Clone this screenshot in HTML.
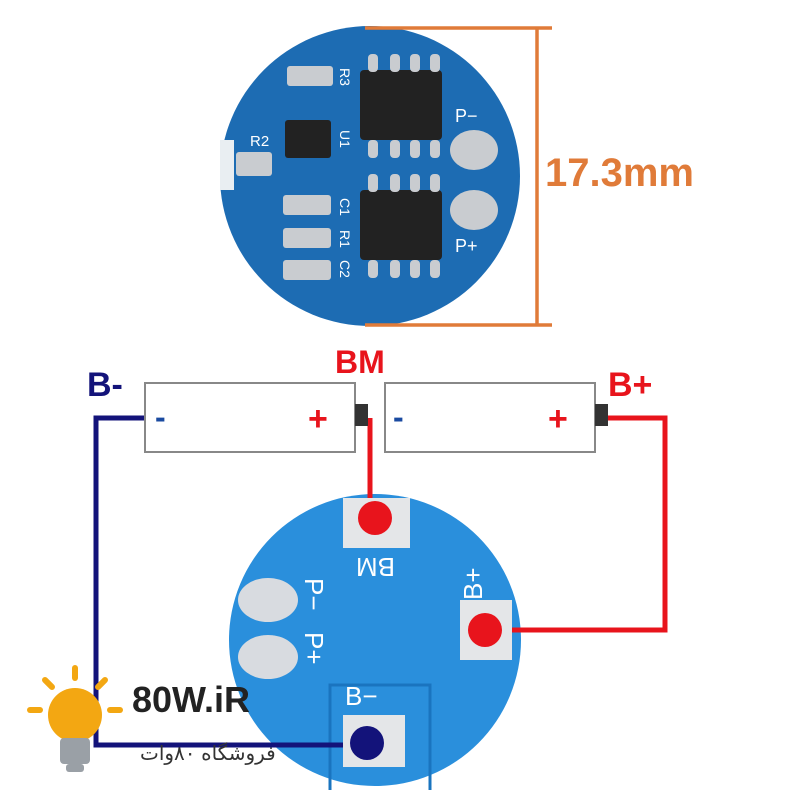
<!DOCTYPE html>
<html><head><meta charset="utf-8"><style>
html,body{margin:0;padding:0;background:#fff;width:800px;height:800px;overflow:hidden}
</style></head><body>
<svg width="800" height="800" viewBox="0 0 800 800" xmlns="http://www.w3.org/2000/svg" font-family="Liberation Sans, sans-serif">
<rect width="800" height="800" fill="#fff"/>
<!-- top PCB -->
<circle cx="370" cy="176" r="150" fill="#1d6cb3"/>
<rect x="220" y="140" width="14" height="50" fill="#e9eef2"/>
<g fill="#222">
<rect x="360" y="70" width="82" height="70" rx="4"/>
<rect x="360" y="190" width="82" height="70" rx="4"/>
<rect x="285" y="120" width="46" height="38" rx="3"/>
</g>
<g fill="#c9ccd0">
<rect x="368" y="54" width="10" height="18" rx="4"/><rect x="390" y="54" width="10" height="18" rx="4"/><rect x="410" y="54" width="10" height="18" rx="4"/><rect x="430" y="54" width="10" height="18" rx="4"/>
<rect x="368" y="140" width="10" height="18" rx="4"/><rect x="390" y="140" width="10" height="18" rx="4"/><rect x="410" y="140" width="10" height="18" rx="4"/><rect x="430" y="140" width="10" height="18" rx="4"/>
<rect x="368" y="174" width="10" height="18" rx="4"/><rect x="390" y="174" width="10" height="18" rx="4"/><rect x="410" y="174" width="10" height="18" rx="4"/><rect x="430" y="174" width="10" height="18" rx="4"/>
<rect x="368" y="260" width="10" height="18" rx="4"/><rect x="390" y="260" width="10" height="18" rx="4"/><rect x="410" y="260" width="10" height="18" rx="4"/><rect x="430" y="260" width="10" height="18" rx="4"/>
<rect x="287" y="66" width="46" height="20" rx="3"/>
<rect x="236" y="152" width="36" height="24" rx="3"/>
<rect x="283" y="195" width="48" height="20" rx="3"/>
<rect x="283" y="228" width="48" height="20" rx="3"/>
<rect x="283" y="260" width="48" height="20" rx="3"/>
<ellipse cx="474" cy="150" rx="24" ry="20"/>
<ellipse cx="474" cy="210" rx="24" ry="20"/>
</g>
<g fill="#fff" font-size="18">
<text x="455" y="122">P−</text><text x="455" y="252">P+</text>
<text x="250" y="146" font-size="15">R2</text>
</g>
<g fill="#fff" font-size="14">
<text transform="translate(340,68) rotate(90)">R3</text>
<text transform="translate(340,130) rotate(90)">U1</text>
<text transform="translate(340,198) rotate(90)">C1</text>
<text transform="translate(340,230) rotate(90)">R1</text>
<text transform="translate(340,260) rotate(90)">C2</text>
</g>
<!-- dimension -->
<g stroke="#e07b39" stroke-width="3.5">
<line x1="365" y1="28" x2="552" y2="28"/><line x1="365" y1="325" x2="552" y2="325"/><line x1="537" y1="28" x2="537" y2="325"/>
</g>
<text x="545" y="186" fill="#e07b39" font-size="40" font-weight="bold">17.3mm</text>
<!-- labels -->
<text x="335" y="373" fill="#e8141c" font-size="32" font-weight="bold">BM</text>
<text x="87" y="396" fill="#13137a" font-size="34" font-weight="bold">B-</text>
<text x="608" y="396" fill="#e8141c" font-size="34" font-weight="bold">B+</text>
<!-- bottom PCB -->
<circle cx="375" cy="640" r="146" fill="#2a8fdc"/>
<path d="M330 790 L330 685 L430 685 L430 790" fill="none" stroke="#1a74bf" stroke-width="3"/>
<!-- wires -->
<g fill="none" stroke-width="5">
<polyline points="145,418 96,418 96,745 367,745" stroke="#13137a"/>
<polyline points="607,418 665,418 665,630 485,630" stroke="#e8141c"/>
<polyline points="370,418 370,515" stroke="#e8141c"/>
</g>
<!-- batteries -->
<rect x="145" y="383" width="210" height="69" fill="#fff" stroke="#888" stroke-width="2"/>
<rect x="355" y="404" width="13" height="22" fill="#333"/>
<rect x="385" y="383" width="210" height="69" fill="#fff" stroke="#888" stroke-width="2"/>
<rect x="595" y="404" width="13" height="22" fill="#333"/>
<text x="155" y="428" fill="#1a4aa0" font-size="32" font-weight="bold">-</text>
<text x="308" y="430" fill="#e8141c" font-size="34" font-weight="bold">+</text>
<text x="393" y="428" fill="#1a4aa0" font-size="32" font-weight="bold">-</text>
<text x="548" y="430" fill="#e8141c" font-size="34" font-weight="bold">+</text>
<!-- pads -->
<rect x="343" y="498" width="67" height="50" fill="#e4e6e8"/>
<rect x="460" y="600" width="52" height="60" fill="#e4e6e8"/>
<rect x="343" y="715" width="62" height="52" fill="#e4e6e8"/>
<ellipse cx="268" cy="600" rx="30" ry="22" fill="#d8dbe0"/>
<ellipse cx="268" cy="657" rx="30" ry="22" fill="#d8dbe0"/>
<circle cx="375" cy="518" r="17" fill="#e8141c"/>
<circle cx="485" cy="630" r="17" fill="#e8141c"/>
<circle cx="367" cy="743" r="17" fill="#13137a"/>
<g fill="#fff" font-size="26">
<text x="345" y="705">B−</text>
<text transform="translate(395,558) rotate(180)">BM</text>
<text transform="translate(482,600) rotate(-90)">B+</text>
<text transform="translate(305,578) rotate(90)">P−</text>
<text transform="translate(305,632) rotate(90)">P+</text>
</g>
<!-- logo -->
<g stroke="#f3a712" stroke-width="6" stroke-linecap="round">
<line x1="75" y1="668" x2="75" y2="678"/>
<line x1="45" y1="680" x2="52" y2="687"/>
<line x1="105" y1="680" x2="98" y2="687"/>
<line x1="30" y1="710" x2="40" y2="710"/>
<line x1="110" y1="710" x2="120" y2="710"/>
</g>
<ellipse cx="75" cy="715" rx="27" ry="27" fill="#f3a712"/>
<rect x="60" y="738" width="30" height="26" rx="4" fill="#9aa0a6"/>
<rect x="66" y="764" width="18" height="8" rx="3" fill="#9aa0a6"/>
<text x="132" y="712" fill="#222" font-size="36" font-weight="bold">80W.iR</text>
<text x="140" y="760" fill="#333" font-size="20" font-family="Liberation Sans, DejaVu Sans, sans-serif">فروشگاه ۸۰وات</text>
</svg>
</body></html>
